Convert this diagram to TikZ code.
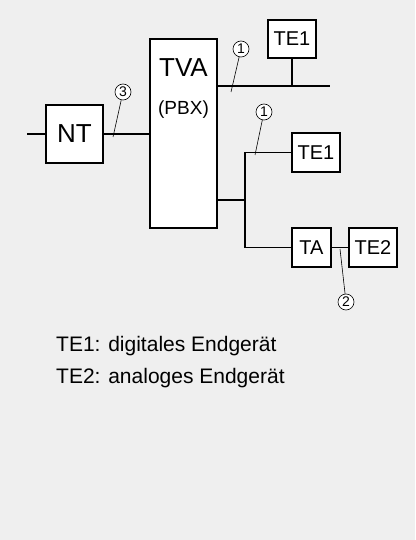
\documentclass[tikz,border=0pt]{standalone}
\usepackage{fontspec}
\setmainfont{Liberation Sans}
\definecolor{bggray}{HTML}{EFEFEF}

\begin{document}
\begin{tikzpicture}[x=1pt,y=-1pt,
    unit/.style={draw, line width=1.6pt, fill=white, inner sep=0pt},
    wire/.style={line width=1.8pt},
    lead/.style={line width=0.6pt},
    tag/.style={circle, draw, line width=0.6pt, fill=white, minimum size=16pt,
                inner sep=0pt, font=\fontsize{14}{14}\selectfont},
    legend/.style={anchor=base west, inner sep=0pt, font=\fontsize{21}{21}\selectfont}]
  \useasboundingbox[fill=bggray] (0,0) rectangle (415,540);

  % boxes
  \node[unit, minimum width=57pt, minimum height=58pt,
        font=\fontsize{26}{26}\selectfont] (nt) at (74.5,134) {NT};
  \node[unit, minimum width=67pt, minimum height=189pt] (tva) at (183.5,133.5) {};
  \node[font=\fontsize{26}{26}\selectfont] (tvaname) at (183.5,68) {TVA};
  \node[font=\fontsize{19}{19}\selectfont] (pbx) at (183.5,110) {(PBX)};
  \node[unit, minimum width=48pt, minimum height=38pt,
        font=\fontsize{20}{20}\selectfont] (te1a) at (292,39) {TE1};
  \node[unit, minimum width=48pt, minimum height=39pt,
        font=\fontsize{20}{20}\selectfont] (te1b) at (316,152.5) {TE1};
  \node[unit, minimum width=39pt, minimum height=39pt,
        font=\fontsize{20}{20}\selectfont] (ta) at (311.5,247.5) {TA};
  \node[unit, minimum width=48pt, minimum height=39pt,
        font=\fontsize{20}{20}\selectfont] (te2) at (373,247.5) {TE2};

  % wiring
  \coordinate (line) at (27,134);
  \coordinate (busend) at (330,86);
  \coordinate (fork) at (245,200);
  \draw[wire] (line) -- (nt.west);
  \draw[wire] (nt.east) -- (nt.east -| tva.west);
  \draw[wire] (tva.east |- busend) -- (busend);
  \draw[wire] (te1a.south) -- (te1a.south |- busend);
  \draw[wire] (tva.east |- fork) -- (fork);
  \draw[wire] (te1b.west) -| (fork) |- (ta.west);
  \draw[wire] (ta) -- (te2);

  % interface marks
  \node[tag] (i1a) at (241,49) {1};
  \node[tag] (i3) at (123,92) {3};
  \node[tag] (i1b) at (264,112) {1};
  \node[tag] (i2) at (346,302) {2};
  \coordinate (p1a) at (231,92);
  \coordinate (p3) at (113,137);
  \coordinate (p1b) at (255,155);
  \coordinate (p2) at (340,249);
  \draw[lead] (i1a) -- (p1a);
  \draw[lead] (i3) -- (p3);
  \draw[lead] (i1b) -- (p1b);
  \draw[lead] (i2) -- (p2);

  % legend
  \node[legend] (leg1) at (56,351) {TE1: digitales Endgerät};
  \node[legend] (leg2) at (56,383) {TE2: analoges Endgerät};
\end{tikzpicture}
\end{document}
